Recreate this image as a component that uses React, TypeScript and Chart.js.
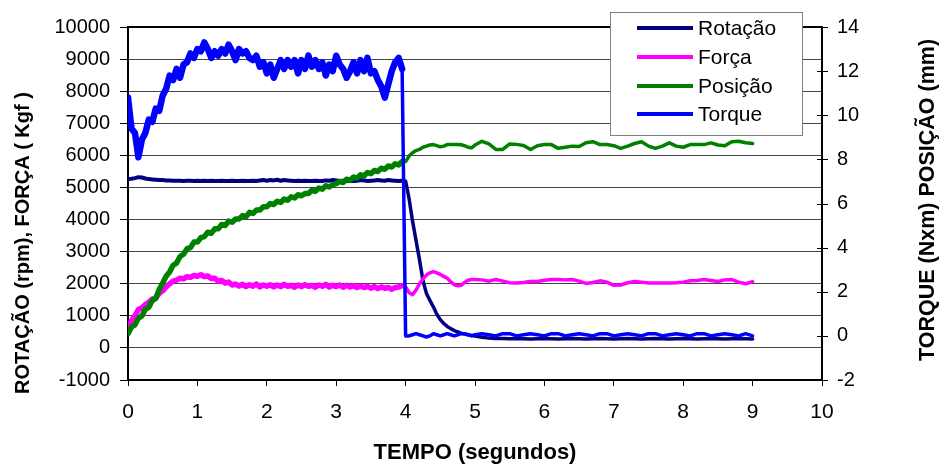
import React, { useEffect, useRef } from 'react';
import { Chart, registerables } from 'chart.js';

Chart.register(...registerables);

const FONT = '"Liberation Sans", Arial, sans-serif';

const TEMPO = [
  0, 0.05, 0.1, 0.15, 0.2, 0.25, 0.3, 0.35, 0.4, 0.45,
  0.5, 0.55, 0.6, 0.65, 0.7, 0.75, 0.8, 0.85, 0.9, 0.95,
  1, 1.05, 1.1, 1.15, 1.2, 1.25, 1.3, 1.35, 1.4, 1.45,
  1.5, 1.55, 1.6, 1.65, 1.7, 1.75, 1.8, 1.85, 1.9, 1.95,
  2, 2.05, 2.1, 2.15, 2.2, 2.25, 2.3, 2.35, 2.4, 2.45,
  2.5, 2.55, 2.6, 2.65, 2.7, 2.75, 2.8, 2.85, 2.9, 2.95,
  3, 3.05, 3.1, 3.15, 3.2, 3.25, 3.3, 3.35, 3.4, 3.45,
  3.5, 3.55, 3.6, 3.65, 3.7, 3.75, 3.8, 3.85, 3.9, 3.95,
  4, 4.05, 4.1, 4.15, 4.2, 4.25, 4.3, 4.35, 4.4, 4.45,
  4.5, 4.55, 4.6, 4.65, 4.7, 4.75, 4.8, 4.85, 4.9, 4.95,
  5, 5.1, 5.2, 5.3, 5.4, 5.5, 5.6, 5.7, 5.8, 5.9,
  6, 6.1, 6.2, 6.3, 6.4, 6.5, 6.6, 6.7, 6.8, 6.9,
  7, 7.1, 7.2, 7.3, 7.4, 7.5, 7.6, 7.7, 7.8, 7.9,
  8, 8.1, 8.2, 8.3, 8.4, 8.5, 8.6, 8.7, 8.8, 8.9,
  9,
];

const ROTACAO = [
  5260, 5270, 5290, 5320, 5310, 5280, 5260, 5250, 5240, 5230,
  5230, 5220, 5220, 5210, 5210, 5210, 5200, 5210, 5210, 5200,
  5210, 5200, 5210, 5200, 5210, 5200, 5200, 5210, 5200, 5200,
  5210, 5200, 5200, 5210, 5200, 5200, 5210, 5200, 5220, 5230,
  5210, 5230, 5220, 5240, 5210, 5230, 5220, 5210, 5200, 5210,
  5200, 5210, 5200, 5200, 5210, 5200, 5200, 5220, 5210, 5230,
  5220, 5200, 5210, 5200, 5210, 5200, 5210, 5230, 5220, 5200,
  5210, 5220, 5230, 5220, 5210, 5230, 5220, 5210, 5200, 5210,
  5200, 4650, 3950, 3350, 2750, 2100, 1700, 1480, 1280, 1050,
  880, 760, 670, 600, 540, 500, 460, 430, 410, 390,
  370, 330, 305, 295, 290, 285, 290, 285, 280, 285,
  290, 285, 280, 285, 290, 285, 280, 285, 290, 285,
  280, 285, 290, 285, 280, 285, 290, 285, 280, 285,
  290, 285, 280, 285, 290, 285, 280, 285, 290, 285,
  280,
];

const FORCA = [
  600, 850, 1000, 1200, 1250, 1350, 1420, 1520, 1560, 1700,
  1780, 1900, 2000, 2080, 2110, 2170, 2150, 2220, 2200, 2260,
  2230, 2280, 2220, 2240, 2160, 2170, 2080, 2100, 2020, 2050,
  1960, 1990, 1930, 1980, 1910, 1970, 1920, 1990, 1900, 1960,
  1920, 1970, 1900, 1960, 1910, 1980, 1920, 1950, 1890, 1960,
  1910, 1970, 1920, 1950, 1890, 1960, 1920, 1980, 1900, 1950,
  1910, 1960, 1890, 1950, 1900, 1940, 1880, 1930, 1880, 1920,
  1860, 1910, 1850, 1900, 1860, 1880, 1830, 1880, 1900, 1940,
  1900, 1720, 1660, 1800, 2000, 2150, 2270, 2340, 2380, 2340,
  2290, 2230, 2170, 2060, 1970, 1940, 1950, 2040, 2110, 2130,
  2130, 2120, 2080, 2130, 2080, 2030, 2020, 2040, 2070, 2070,
  2110, 2130, 2130, 2120, 2130, 2080, 2010, 2040, 2090, 2050,
  1950, 1960, 2030, 2070, 2050, 2020, 2020, 2020, 2020, 2030,
  2050, 2090, 2100, 2130, 2100, 2070, 2120, 2130, 2050, 2000,
  2060,
];

const POSICAO = [
  0.1, 0.4, 0.5, 0.8, 0.9, 1.2, 1.3, 1.6, 1.7, 2.1,
  2.4, 2.7, 2.9, 3.2, 3.3, 3.6, 3.7, 3.95, 4.0, 4.25,
  4.25, 4.45, 4.5, 4.7, 4.65, 4.85, 4.85, 5.05, 5.0, 5.2,
  5.15, 5.3, 5.3, 5.45, 5.4, 5.6, 5.55, 5.7, 5.7, 5.85,
  5.85, 6.0, 5.95, 6.1, 6.05, 6.2, 6.15, 6.3, 6.25, 6.4,
  6.35, 6.45, 6.45, 6.6, 6.55, 6.7, 6.65, 6.8, 6.75, 6.85,
  6.9, 7.0, 6.95, 7.1, 7.05, 7.2, 7.15, 7.3, 7.25, 7.4,
  7.35, 7.5, 7.45, 7.6, 7.55, 7.7, 7.65, 7.8, 7.75, 7.9,
  7.9, 8.15, 8.3, 8.4, 8.45, 8.55, 8.6, 8.65, 8.67, 8.62,
  8.57, 8.6, 8.67, 8.67, 8.67, 8.67, 8.66, 8.62, 8.55, 8.52,
  8.65, 8.82, 8.7, 8.45, 8.45, 8.7, 8.68, 8.63, 8.45, 8.62,
  8.67, 8.67, 8.5, 8.55, 8.6, 8.58, 8.75, 8.8, 8.67, 8.67,
  8.62, 8.5, 8.6, 8.72, 8.8, 8.6, 8.5, 8.6, 8.75, 8.6,
  8.55, 8.67, 8.67, 8.67, 8.75, 8.65, 8.62, 8.8, 8.82, 8.75,
  8.72,
];

const TORQUE = [
  10.8, 9.4, 9.2, 8.1, 8.9, 9.2, 9.8, 9.7, 10.3, 10.2,
  10.9, 11.2, 11.8, 11.6, 12.1, 11.7, 12.3, 12.4, 12.8, 12.6,
  13.0, 12.9, 13.3, 13.0, 12.6, 12.9, 12.7, 13.0, 12.8, 13.2,
  12.9, 12.5, 13.0, 12.8, 12.9, 12.6, 12.5, 12.7, 12.2, 12.4,
  11.9, 12.3, 11.7, 12.1, 12.5, 12.1, 12.5, 12.2, 12.5, 11.9,
  12.5, 12.1, 12.7, 12.2, 12.5, 12.1, 12.4, 11.8, 12.3, 12.0,
  12.7, 12.3, 12.1, 11.7, 12.0, 12.4, 11.9, 12.5, 12.0, 12.6,
  11.9, 12.0, 11.6, 11.3, 10.8, 11.4, 12.0, 12.4, 12.6, 12.1,
  0.0, 0.0, 0.05, 0.1, 0.05, 0.0, -0.05, 0.0, 0.1, 0.05,
  0.0, 0.05, 0.1, 0.05, 0.0, 0.05, 0.1, 0.1, 0.05, 0.0,
  0.05, 0.1, 0.05, 0.0, 0.1, 0.1, 0.0, 0.05, 0.1, 0.05,
  0.0, 0.1, 0.1, 0.0, 0.05, 0.1, 0.05, 0.0, 0.1, 0.1,
  0.0, 0.05, 0.1, 0.05, 0.0, 0.1, 0.1, 0.0, 0.05, 0.1,
  0.05, 0.0, 0.1, 0.1, 0.0, 0.05, 0.1, 0.05, 0.0, 0.1,
  0.0,
];

const SERIES_NAMES = ['Rotação', 'Força', 'Posição', 'Torque'];
const SERIES_COLORS = ['#000080', '#FF00FF', '#008000', '#0000FF'];
const TITLE_LEFT = 'ROTAÇÃO (rpm), FORÇA ( Kgf )';
const TITLE_RIGHT = 'TORQUE (Nxm) POSIÇÃO (mm)';
const TITLE_X = 'TEMPO (segundos)';

const toPoints = (vals: number[]) => TEMPO.map((t, i) => ({ x: t, y: vals[i] }));

const decorPlugin = {
  id: 'decor',
  beforeDatasetsDraw(chart: any) {
    const { ctx, chartArea: a } = chart;
    ctx.save();
    ctx.strokeStyle = '#000';
    ctx.lineWidth = 2;
    ctx.strokeRect(a.left, a.top, a.right - a.left, a.bottom - a.top);
    ctx.restore();
  },
  afterDraw(chart: any) {
    const { ctx, chartArea: a } = chart;
    const y2 = chart.scales.y2;
    ctx.save();
    ctx.strokeStyle = '#000';
    ctx.lineWidth = 1;
    for (const t of y2.ticks) {
      const py = Math.round(y2.getPixelForValue(t.value)) + 0.5;
      ctx.beginPath();
      ctx.moveTo(a.right - 5, py);
      ctx.lineTo(a.right + 6, py);
      ctx.stroke();
    }
    ctx.fillStyle = '#000';
    ctx.textAlign = 'center';
    ctx.textBaseline = 'middle';
    ctx.font = `bold 20px ${FONT}`;
    ctx.save();
    ctx.translate(23, 243);
    ctx.rotate(-Math.PI / 2);
    ctx.fillText(TITLE_LEFT, 0, 0);
    ctx.restore();
    ctx.font = `bold 21.5px ${FONT}`;
    ctx.save();
    ctx.translate(928, 200);
    ctx.rotate(-Math.PI / 2);
    ctx.fillText(TITLE_RIGHT, 0, 0);
    ctx.restore();
    ctx.font = `bold 22px ${FONT}`;
    ctx.fillText(TITLE_X, (a.left + a.right) / 2, 453);
    const bx = 610.5, by = 12.5, bw = 192, bh = 123;
    ctx.fillStyle = '#fff';
    ctx.fillRect(bx, by, bw, bh);
    ctx.strokeStyle = '#808080';
    ctx.lineWidth = 1;
    ctx.strokeRect(bx, by, bw, bh);
    const rows = [28, 57, 86, 114];
    ctx.font = `21px ${FONT}`;
    ctx.textAlign = 'left';
    chart.data.datasets.forEach((ds: any, i: number) => {
      ctx.strokeStyle = ds.borderColor;
      ctx.lineWidth = 4;
      ctx.beginPath();
      ctx.moveTo(637, rows[i]);
      ctx.lineTo(693, rows[i]);
      ctx.stroke();
      ctx.fillStyle = '#000';
      ctx.fillText(ds.label, 698, rows[i] + 1);
    });
    ctx.restore();
  },
};

export default function App() {
  const ref = useRef<HTMLCanvasElement>(null);
  useEffect(() => {
    const series = [ROTACAO, FORCA, POSICAO, TORQUE];
    const axes = ['y', 'y', 'y2', 'y2'];
    const orders = [4, 3, 2, 1];
    const noisyWidth = [4, 5.5, 5.5, 6.5];
    const tickFont = { family: FONT, size: 20 };
    const chart = new Chart(ref.current as HTMLCanvasElement, {
      type: 'line',
      data: {
        datasets: series.map((vals, i) => ({
          label: SERIES_NAMES[i],
          data: toPoints(vals),
          borderColor: SERIES_COLORS[i],
          backgroundColor: SERIES_COLORS[i],
          borderWidth: 3.5,
          pointRadius: 0,
          tension: 0,
          yAxisID: axes[i],
          order: orders[i],
          borderJoinStyle: 'round',
          borderCapStyle: 'round',
          segment: {
            borderWidth: (c: any) => (c.p1.parsed.x < 3.99 ? noisyWidth[i] : 3.5),
          },
        })),
      },
      options: {
        responsive: false,
        animation: false,
        devicePixelRatio: 1,
        layout: { padding: { top: 23, left: 0, right: 0, bottom: 0 } },
        plugins: { legend: { display: false }, tooltip: { enabled: false } },
        scales: {
          x: {
            type: 'linear',
            min: 0,
            max: 10,
            ticks: { stepSize: 1, autoSkip: false, maxRotation: 0, color: '#000', font: { family: FONT, size: 21 }, padding: 14, callback: (v: any) => String(v) },
            grid: { display: true, drawOnChartArea: false, drawTicks: true, tickLength: 6, tickColor: '#000' },
            border: { display: false },
            afterFit: (s: any) => { s.height = 88; },
          },
          y: {
            position: 'left',
            min: -1000,
            max: 10000,
            ticks: { stepSize: 1000, color: '#000', font: tickFont, padding: 10, callback: (v: any) => String(v) },
            grid: { color: '#444', lineWidth: 1, tickLength: 8, tickColor: '#000' },
            border: { display: false },
            afterFit: (s: any) => { s.width = 128; },
          },
          y2: {
            position: 'right',
            min: -2,
            max: 14,
            ticks: { stepSize: 2, color: '#000', font: tickFont, padding: 15, callback: (v: any) => String(v) },
            grid: { display: false, drawTicks: false },
            border: { display: false },
            afterFit: (s: any) => { s.width = 121; },
          },
        },
      } as any,
      plugins: [decorPlugin],
    });
    return () => chart.destroy();
  }, []);
  return (
    <div style={{ position: 'absolute', left: 0, top: 0, width: 943, height: 468, background: '#fff' }}>
      <canvas ref={ref} width={943} height={468} style={{ display: 'block' }} />
    </div>
  );
}
